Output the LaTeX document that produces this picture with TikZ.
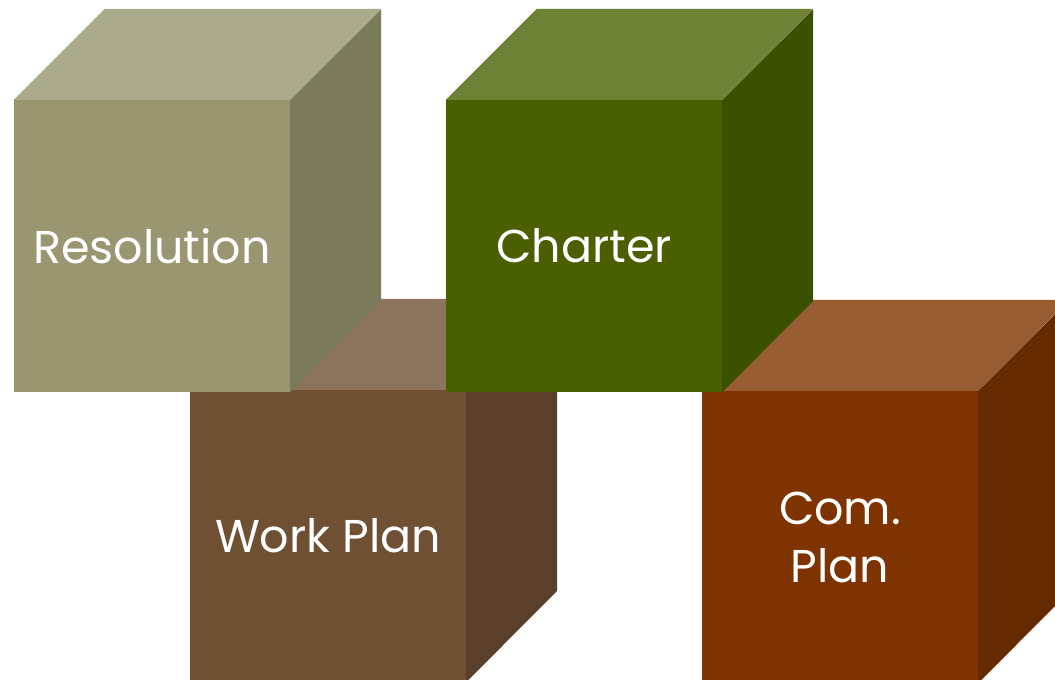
\documentclass[tikz,border=0pt]{standalone}
\usepackage{fontspec}
\setmainfont{Poppins}
\definecolor{resF}{HTML}{9A9672}
\definecolor{resT}{HTML}{ABAA8B}
\definecolor{resS}{HTML}{7B7A5B}
\definecolor{wpF}{HTML}{6F5033}
\definecolor{wpT}{HTML}{8C735B}
\definecolor{wpS}{HTML}{5A402A}
\definecolor{chF}{HTML}{4A6000}
\definecolor{chT}{HTML}{6E8235}
\definecolor{chS}{HTML}{3B5000}
\definecolor{cpF}{HTML}{7E3300}
\definecolor{cpT}{HTML}{985C32}
\definecolor{cpS}{HTML}{662A00}
\tikzset{
  frontface/.style={rectangle, inner sep=0pt, minimum width=276pt, minimum height=292pt,
    text=white, font=\fontsize{46}{58}\selectfont, align=center},
}
\newcommand{\cubetopside}[3]{%
  \fill[#2] (#1.north west) -- ++(91,-91) -- ++(276,0) -- (#1.north east) -- cycle;
  \fill[#3] (#1.north east) -- ++(91,-91) -- ++(0,292) -- (#1.south east) -- cycle;
}
\begin{document}
\begin{tikzpicture}[x=1pt,y=-1pt]
\clip (0,0) rectangle (1055,680);
% back row
\node[frontface, fill=wpF] (wp) at (328,536) {Work Plan};
\cubetopside{wp}{wpT}{wpS}
\node[frontface, fill=cpF] (cp) at (840,537) {Com.\\Plan};
\cubetopside{cp}{cpT}{cpS}
% front row
\node[frontface, fill=resF] (res) at (152,246) {Resolution};
\cubetopside{res}{resT}{resS}
\node[frontface, fill=chF] (ch) at (584,246) {Charter};
\cubetopside{ch}{chT}{chS}
\end{tikzpicture}
\end{document}
